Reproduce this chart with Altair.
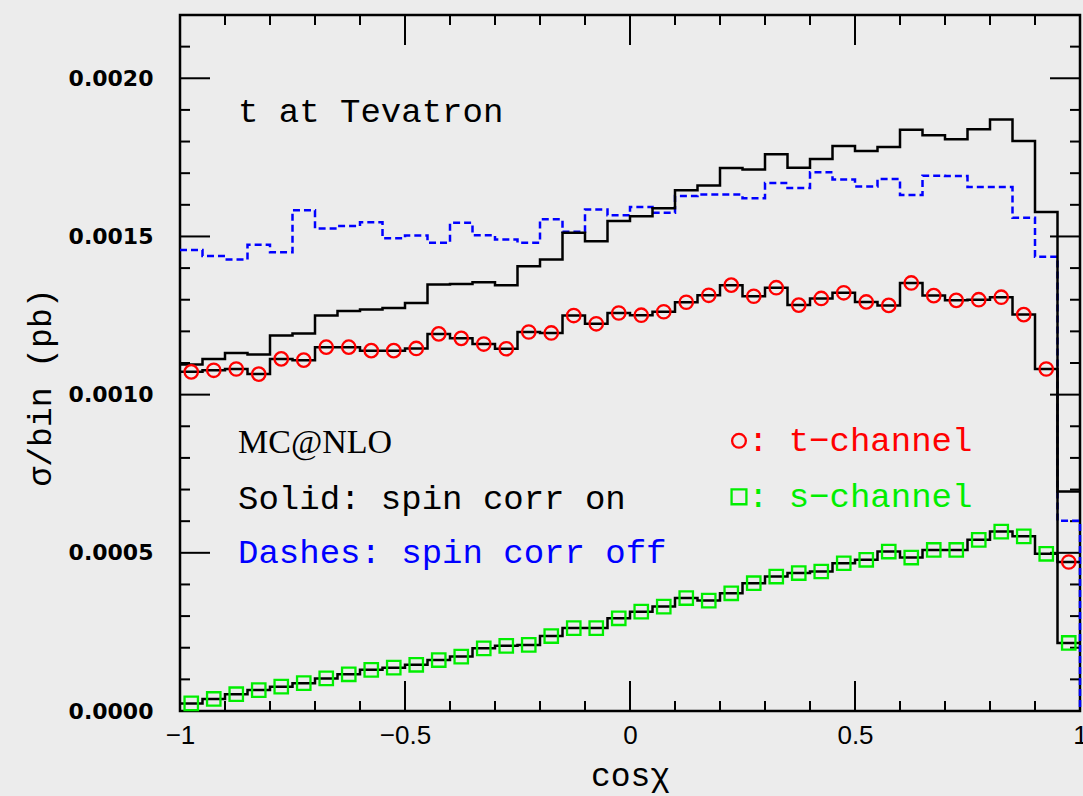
import altair as alt
import numpy as np
import pandas as pd

# cos(chi) histogram: 40 bins of width 0.05 on [-1, 1]
n_bins = 40
edges = np.round(np.linspace(-1.0, 1.0, n_bins + 1), 4)
centers = np.round((edges[:-1] + edges[1:]) / 2, 4)

# sigma/bin (pb), spin correlations on (t + s channels)
total_on = [0.001095, 0.001113, 0.001132, 0.001127, 0.001187, 0.001193, 0.00125, 0.001264,
            0.001269, 0.001274, 0.00129, 0.001348, 0.00135, 0.001355, 0.001346, 0.001406,
            0.001427, 0.001512, 0.001485, 0.001549, 0.001564, 0.001589, 0.001646, 0.001661,
            0.001716, 0.001712, 0.00176, 0.001717, 0.001745, 0.001786, 0.00177, 0.001783,
            0.001837, 0.00182, 0.001807, 0.001839, 0.00187, 0.001802, 0.001577, 0.000694]

# sigma/bin (pb), spin correlations off
total_off = [0.001457, 0.001438, 0.001427, 0.001474, 0.00145, 0.001583, 0.001525, 0.001533,
             0.001545, 0.001494, 0.001503, 0.00148, 0.001543, 0.001504, 0.00149, 0.00148,
             0.001554, 0.001515, 0.001585, 0.001567, 0.001593, 0.001575, 0.001628, 0.001633,
             0.001633, 0.001621, 0.001669, 0.001653, 0.001703, 0.00168, 0.001658, 0.001682,
             0.001631, 0.001692, 0.001691, 0.001656, 0.001656, 0.001559, 0.001436, 0.000601]

# t-channel, spin correlations on
t_chan = [0.001072, 0.001077, 0.001081, 0.001065, 0.001113, 0.001109, 0.00115, 0.00115,
          0.001139, 0.001139, 0.001146, 0.001192, 0.001178, 0.00116, 0.001145, 0.001198,
          0.001195, 0.00125, 0.001224, 0.001258, 0.001251, 0.001262, 0.001292, 0.001314,
          0.001346, 0.001311, 0.001338, 0.001283, 0.001304, 0.001322, 0.001293, 0.001282,
          0.001353, 0.001313, 0.001298, 0.0013, 0.001308, 0.001253, 0.001081, 0.000471]

# s-channel, spin correlations on
s_chan = [0.000024, 0.000038, 0.000053, 0.000066, 0.000077, 0.000088, 0.000103, 0.000116,
          0.00013, 0.000137, 0.000146, 0.000161, 0.000172, 0.000198, 0.000206, 0.000209,
          0.000237, 0.000262, 0.000262, 0.000293, 0.000314, 0.00033, 0.000357, 0.000349,
          0.000372, 0.000404, 0.000425, 0.000436, 0.000441, 0.000467, 0.000478, 0.000504,
          0.000485, 0.000509, 0.000509, 0.000541, 0.000567, 0.000552, 0.000497, 0.000215]

x_major = [-1, -0.5, 0, 0.5, 1]
x_minor = [-0.9, -0.8, -0.7, -0.6, -0.4, -0.3, -0.2, -0.1,
           0.1, 0.2, 0.3, 0.4, 0.6, 0.7, 0.8, 0.9]
y_major = [0.0, 0.0005, 0.0010, 0.0015, 0.0020]
y_minor = [0.0001, 0.0002, 0.0003, 0.0004, 0.0006, 0.0007, 0.0008, 0.0009,
           0.0011, 0.0012, 0.0013, 0.0014, 0.0016, 0.0017, 0.0018, 0.0019,
           0.0021, 0.0022]

W, H = 900, 696
MONO = "Liberation Mono"
SERIF = "Liberation Serif"


def step_path(name, values, close=False):
    rows = []
    k = 0
    for lo, hi, v in zip(edges[:-1], edges[1:], values):
        rows.append({"series": name, "x": lo, "y": v, "o": k}); k += 1
        rows.append({"series": name, "x": hi, "y": v, "o": k}); k += 1
    if close:
        rows.append({"series": name, "x": edges[-1], "y": 0.0, "o": k})
    return rows


solid_df = pd.DataFrame(step_path("total_on", total_on)
                        + step_path("t_chan", t_chan)
                        + step_path("s_chan", s_chan))
dash_df = pd.DataFrame(step_path("total_off", total_off, close=True))
t_pts = pd.DataFrame({"x": centers, "y": t_chan})
s_pts = pd.DataFrame({"x": centers, "y": s_chan})

xscale = alt.Scale(domain=[-1, 1], nice=False, zero=False)
yscale = alt.Scale(domain=[0, 0.0022], nice=False, zero=False)

x_axis = alt.Axis(values=x_major, format="~g", ticks=False, domain=False, grid=False,
                  labelFont="Liberation Sans", labelFontSize=26, labelColor="black",
                  labelPadding=11, labelFlush=False,
                  title="cosχ", titleFont=MONO, titleFontSize=33, titleFontWeight="normal",
                  titleColor="black", titleY=64, titleBaseline="middle")
y_axis = alt.Axis(values=y_major, format=".4f", ticks=False, domain=False, grid=False,
                  labelFont="DejaVu Sans", labelFontSize=22, labelFontWeight="bold",
                  labelColor="black", labelPadding=27,
                  title="σ/bin (pb)", titleFont=MONO, titleFontSize=33,
                  titleFontWeight="normal", titleColor="black",
                  titleX=-140, titleY=372, titleAngle=-90, titleBaseline="middle",
                  titleAlign="center")

X = lambda f="x": alt.X(f"{f}:Q", scale=xscale, axis=x_axis)
Y = lambda f="y": alt.Y(f"{f}:Q", scale=yscale, axis=y_axis)

# frame ticks pointing inward on all four sides
yt_major = pd.DataFrame({"y": y_major})
yt_minor = pd.DataFrame({"y": y_minor})
xt_major = pd.DataFrame({"x": x_major})
xt_minor = pd.DataFrame({"x": x_minor})

tick_style = dict(color="black", strokeWidth=2)
ticks = []
for df, L in [(yt_major, 30), (yt_minor, 10)]:
    ticks.append(alt.Chart(df).mark_rule(**tick_style).encode(
        y=Y(), x=alt.value(0), x2=alt.value(L)))
    ticks.append(alt.Chart(df).mark_rule(**tick_style).encode(
        y=Y(), x=alt.value(W - L), x2=alt.value(W)))
for df, L in [(xt_major, 30), (xt_minor, 10)]:
    ticks.append(alt.Chart(df).mark_rule(**tick_style).encode(
        x=X(), y=alt.value(H), y2=alt.value(H - L)))
    ticks.append(alt.Chart(df).mark_rule(**tick_style).encode(
        x=X(), y=alt.value(0), y2=alt.value(L)))

solid = alt.Chart(solid_df).mark_line(color="black", strokeWidth=2.5,
                                      strokeJoin="miter").encode(
    x=X(), y=Y(), detail="series:N", order="o:Q")
dashed = alt.Chart(dash_df).mark_line(color="#0000ff", strokeWidth=2.5,
                                      strokeDash=[7, 4]).encode(
    x=X(), y=Y(), order="o:Q")

circles = alt.Chart(t_pts).mark_point(shape="circle", filled=False, size=180,
                                      color="#ff0000", strokeWidth=2.3, opacity=1).encode(
    x=X(), y=Y())
squares = alt.Chart(s_pts).mark_point(shape="square", filled=False, size=180,
                                      color="#00ee00", strokeWidth=2.3, opacity=1).encode(
    x=X(), y=Y())

# annotations
note_text = ["t at Tevatron", "Solid: spin corr on", "Dashes: spin corr off",
             ": t−channel", ": s−channel"]
note_x = [-0.871, -0.871, -0.871, 0.262, 0.262]
note_y = [0.001892, 0.000671, 0.0005, 0.000854, 0.000677]
note_color = ["black", "black", "#0000ff", "#ff0000", "#00ee00"]
notes = pd.DataFrame({"x": note_x, "y": note_y, "text": note_text, "c": note_color})
notes_layer = alt.Chart(notes).mark_text(font=MONO, fontSize=34, align="left",
                                         baseline="middle").encode(
    x=X(), y=Y(), text="text:N", color=alt.Color("c:N", scale=None))

mc = pd.DataFrame({"x": [-0.871], "y": [0.000848], "text": ["MC@NLO"]})
mc_layer = alt.Chart(mc).mark_text(font=SERIF, fontSize=34, align="left",
                                   baseline="middle", color="black").encode(
    x=X(), y=Y(), text="text:N")

leg_t = pd.DataFrame({"x": [0.2422], "y": [0.000854]})
leg_s = pd.DataFrame({"x": [0.2422], "y": [0.000677]})
leg_c = alt.Chart(leg_t).mark_point(shape="circle", filled=False, size=190,
                                    color="#ff0000", strokeWidth=2.3, opacity=1).encode(
    x=X(), y=Y())
leg_sq = alt.Chart(leg_s).mark_point(shape="square", filled=False, size=220,
                                     color="#00ee00", strokeWidth=2.3, opacity=1).encode(
    x=X(), y=Y())

chart = alt.layer(
    *ticks, dashed, solid, circles, squares, notes_layer, mc_layer, leg_c, leg_sq
).properties(
    width=W, height=H,
    autosize=alt.AutoSizeParams(type="none"),
    padding={"left": 180, "top": 15, "right": 3, "bottom": 85},
    background="#ececec",
).configure_view(
    stroke="black", strokeWidth=2.5, fill="#ececec"
)

chart.save("out.html", embed_options={"renderer": "svg", "actions": False})
